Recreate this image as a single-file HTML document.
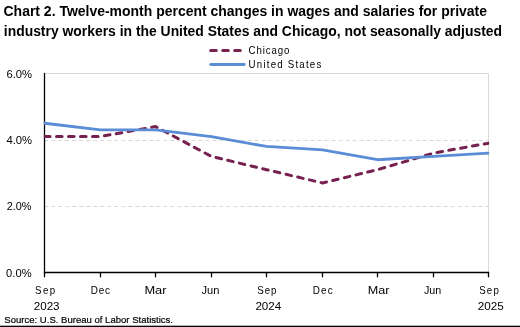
<!DOCTYPE html>
<html><head><meta charset="utf-8"><style>
html,body{margin:0;padding:0;background:#fff;}
svg{display:block;will-change:transform;font-family:"Liberation Sans",sans-serif;}
</style></head><body>
<svg width="520" height="327" viewBox="0 0 520 327">
<defs><clipPath id="pc"><rect x="43.8" y="0" width="445.4" height="272.5"/></clipPath></defs>
<rect width="520" height="327" fill="#fff"/>
<line x1="44.5" y1="73.5" x2="488.5" y2="73.5" stroke="#d9d9d9" stroke-width="1"/><line x1="488.5" y1="73.5" x2="488.5" y2="272.5" stroke="#d9d9d9" stroke-width="1"/><line x1="44.2" y1="140.5" x2="488.5" y2="140.5" stroke="#d9d9d9" stroke-width="1" stroke-dasharray="4,3.008"/><line x1="44.2" y1="206.5" x2="488.5" y2="206.5" stroke="#d9d9d9" stroke-width="1" stroke-dasharray="4,3.008"/>
<line x1="44.5" y1="73.5" x2="44.5" y2="276.8" stroke="#000" stroke-width="1.3" stroke-linecap="round"/><line x1="44.5" y1="272.5" x2="488.5" y2="272.5" stroke="#000" stroke-width="1.3" stroke-linecap="round"/><line x1="100.5" y1="272.5" x2="100.5" y2="276.8" stroke="#000" stroke-width="1.3" stroke-linecap="round"/><line x1="155.5" y1="272.5" x2="155.5" y2="276.8" stroke="#000" stroke-width="1.3" stroke-linecap="round"/><line x1="211.5" y1="272.5" x2="211.5" y2="276.8" stroke="#000" stroke-width="1.3" stroke-linecap="round"/><line x1="266.5" y1="272.5" x2="266.5" y2="276.8" stroke="#000" stroke-width="1.3" stroke-linecap="round"/><line x1="322.5" y1="272.5" x2="322.5" y2="276.8" stroke="#000" stroke-width="1.3" stroke-linecap="round"/><line x1="377.5" y1="272.5" x2="377.5" y2="276.8" stroke="#000" stroke-width="1.3" stroke-linecap="round"/><line x1="433.5" y1="272.5" x2="433.5" y2="276.8" stroke="#000" stroke-width="1.3" stroke-linecap="round"/><line x1="488.5" y1="272.5" x2="488.5" y2="276.8" stroke="#000" stroke-width="1.3" stroke-linecap="round"/>
<g clip-path="url(#pc)">
<polyline points="44.50,136.52 100.50,136.52 155.50,126.57 211.50,156.42 266.50,169.68 322.50,182.95 377.50,169.68 433.50,153.10 488.50,143.15" fill="none" stroke="#76214f" stroke-width="3" stroke-dasharray="5.6,6.4" stroke-linecap="round" stroke-linejoin="round"/>
<polyline points="44.50,123.25 100.50,129.88 155.50,129.88 211.50,136.52 266.50,146.47 322.50,149.78 377.50,159.73 433.50,156.42 488.50,153.10" fill="none" stroke="#5b8dd7" stroke-width="2.8" stroke-linecap="round" stroke-linejoin="round"/>
</g>
<line x1="210.7" y1="50.5" x2="240.7" y2="50.5" stroke="#76214f" stroke-width="3" stroke-dasharray="5.6,6.4" stroke-linecap="round"/>
<line x1="210.7" y1="64.5" x2="244.3" y2="64.5" stroke="#5b8dd7" stroke-width="2.8" stroke-linecap="round"/>
<text x="3.5" y="15.7" font-size="14.5" font-weight="bold" textLength="483.5" lengthAdjust="spacingAndGlyphs" fill="#000" >Chart 2. Twelve-month percent changes in wages and salaries for private</text><text x="3.8" y="35.7" font-size="14.5" font-weight="bold" textLength="498.2" lengthAdjust="spacingAndGlyphs" fill="#000" >industry workers in the United States and Chicago, not seasonally adjusted</text><text transform="translate(248.6,53.7) scale(0.88,1)" font-size="11" font-weight="normal" textLength="46.36" lengthAdjust="spacing" fill="#000" >Chicago</text><text transform="translate(248.6,68.1) scale(0.88,1)" font-size="11" font-weight="normal" textLength="82.61" lengthAdjust="spacing" fill="#000" >United States</text><text x="6.4" y="78.1" font-size="11" font-weight="normal" textLength="25.700000000000003" lengthAdjust="spacingAndGlyphs" fill="#000" >6.0%</text><text x="6.4" y="144.0" font-size="11" font-weight="normal" textLength="25.700000000000003" lengthAdjust="spacingAndGlyphs" fill="#000" >4.0%</text><text x="6.7" y="209.9" font-size="11" font-weight="normal" textLength="24.900000000000002" lengthAdjust="spacingAndGlyphs" fill="#000" >2.0%</text><text x="6.1" y="276.7" font-size="11" font-weight="normal" textLength="25.5" lengthAdjust="spacingAndGlyphs" fill="#000" >0.0%</text><text transform="translate(35,294.4) scale(0.88,1)" font-size="11" font-weight="normal" textLength="22.95" lengthAdjust="spacing" fill="#000" >Sep</text><text transform="translate(90.8,294.4) scale(0.9,1)" font-size="11" font-weight="normal" textLength="21.33" lengthAdjust="spacing" fill="#000" >Dec</text><text x="144.4" y="294.4" font-size="11" font-weight="normal" textLength="22.099999999999994" lengthAdjust="spacingAndGlyphs" fill="#000" >Mar</text><text x="201.5" y="294.4" font-size="11" font-weight="normal" textLength="17.900000000000006" lengthAdjust="spacingAndGlyphs" fill="#000" >Jun</text><text transform="translate(257.3,294.4) scale(0.88,1)" font-size="11" font-weight="normal" textLength="21.82" lengthAdjust="spacing" fill="#000" >Sep</text><text transform="translate(312.7,294.4) scale(0.9,1)" font-size="11" font-weight="normal" textLength="22.22" lengthAdjust="spacing" fill="#000" >Dec</text><text x="367.7" y="294.4" font-size="11" font-weight="normal" textLength="21.69999999999999" lengthAdjust="spacingAndGlyphs" fill="#000" >Mar</text><text x="424" y="294.4" font-size="11" font-weight="normal" textLength="17.30000000000001" lengthAdjust="spacingAndGlyphs" fill="#000" >Jun</text><text transform="translate(479.2,294.4) scale(0.88,1)" font-size="11" font-weight="normal" textLength="22.27" lengthAdjust="spacing" fill="#000" >Sep</text><text x="33.7" y="310.2" font-size="11" font-weight="normal" textLength="25.9" lengthAdjust="spacingAndGlyphs" fill="#000" >2023</text><text x="255.4" y="310.2" font-size="11" font-weight="normal" textLength="25.900000000000006" lengthAdjust="spacingAndGlyphs" fill="#000" >2024</text><text x="477.7" y="310.2" font-size="11" font-weight="normal" textLength="26.0" lengthAdjust="spacingAndGlyphs" fill="#000" >2025</text><text x="4.3" y="322.9" font-size="9.7" font-weight="normal" textLength="168.7" lengthAdjust="spacingAndGlyphs" fill="#000" stroke="#000" stroke-width="0.2">Source: U.S. Bureau of Labor Statistics.</text>
<rect x="0" y="325.7" width="520" height="1.3" fill="#000"/>
</svg>
</body></html>
